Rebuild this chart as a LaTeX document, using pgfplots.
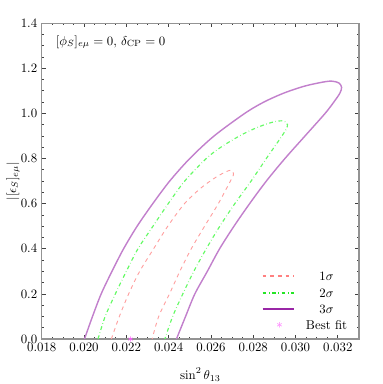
\documentclass[border=0pt]{standalone}
\usepackage{pgfplots}
\pgfplotsset{compat=1.18}
\usetikzlibrary{calc}
\definecolor{cpurple}{rgb}{0.76,0.50,0.80}
\definecolor{cred}{rgb}{1.0,0.62,0.62}
\definecolor{cgreen}{rgb}{0.40,0.98,0.40}
\definecolor{legpurple}{rgb}{0.60,0.15,0.65}
\definecolor{lred}{rgb}{1.0,0.50,0.50}
\definecolor{lgreen}{rgb}{0.15,0.90,0.15}
\definecolor{cstar}{rgb}{1.0,0.35,1.0}
\begin{document}
\begin{tikzpicture}
\begin{axis}[
  scale only axis, width=247pt, height=246pt,
  xmin=0.018, xmax=0.033, ymin=0, ymax=1.4,
  xtick={0.018,0.020,0.022,0.024,0.026,0.028,0.030,0.032},
  ytick={0,0.2,0.4,0.6,0.8,1.0,1.2,1.4},
  scaled x ticks=false,
  xticklabel style={/pgf/number format/fixed,/pgf/number format/fixed zerofill,/pgf/number format/precision=3},
  yticklabel style={/pgf/number format/fixed,/pgf/number format/fixed zerofill,/pgf/number format/precision=1},
  minor x tick num=3, minor y tick num=3,
  tick align=inside,
  major tick length=3pt, minor tick length=1.6pt,
  axis line style={gray!85, line width=0.9pt},
  tick style={black!75, line width=0.5pt},
  xlabel={$\sin^2\theta_{13}$},
  ylabel={$|[\epsilon_S]_{e\mu}|$},
  ylabel shift=-6pt,
  every axis x label/.style={at={(rel axis cs:0.5,0)}, anchor=north, yshift=-19pt},
]
% 1 sigma
\addplot[cred, dashed, line width=0.7pt, smooth, tension=0.5] coordinates {
(0.02129,0) (0.02167,0.1) (0.02211,0.2) (0.02263,0.3) (0.02329,0.4) (0.02396,0.5) (0.02475,0.6)
(0.02551,0.668) (0.02620,0.715) (0.02668,0.740) (0.02693,0.748) (0.02704,0.742) (0.02706,0.726)
(0.02692,0.70) (0.02635,0.6) (0.02570,0.5) (0.02507,0.4) (0.02453,0.3) (0.02404,0.2) (0.02353,0.1) (0.02322,0)
};
% 2 sigma
\addplot[cgreen, dash dot, line width=0.9pt, smooth, tension=0.5] coordinates {
(0.02066,0) (0.02100,0.1) (0.02148,0.2) (0.02200,0.3) (0.02255,0.4) (0.02326,0.5) (0.02398,0.6)
(0.02476,0.7) (0.02578,0.8) (0.02650,0.852) (0.02735,0.900) (0.02800,0.930) (0.02860,0.952)
(0.02905,0.964) (0.02935,0.967) (0.02953,0.962) (0.02962,0.950) (0.02956,0.930) (0.02925,0.885)
(0.02862,0.80) (0.02790,0.7) (0.02713,0.6) (0.02642,0.5) (0.02578,0.4) (0.02519,0.3) (0.02467,0.2) (0.02419,0.1) (0.02382,0)
};
% 3 sigma
\addplot[cpurple, line width=1.1pt, smooth, tension=0.5] coordinates {
(0.02002,0) (0.02040,0.1) (0.02081,0.2) (0.02132,0.3) (0.02187,0.4) (0.02251,0.5) (0.02325,0.6)
(0.02405,0.7) (0.02500,0.8) (0.02615,0.9) (0.02760,1.0) (0.02850,1.05) (0.02945,1.09)
(0.03040,1.120) (0.03120,1.137) (0.03170,1.143) (0.03205,1.135) (0.03218,1.115)
(0.03210,1.090) (0.03185,1.055) (0.03140,1.000) (0.03045,0.9)
(0.02950,0.8) (0.02862,0.7) (0.02783,0.6) (0.02709,0.5) (0.02641,0.4) (0.02583,0.3) (0.02524,0.2) (0.02480,0.1) (0.02437,0)
};
% best fit
\addplot[only marks, mark=asterisk, mark size=2pt, cstar] coordinates {(0.0222,0)};
% legend (drawn by hand)
\draw[lred, dashed, line width=0.8pt] (rel axis cs:0.696,0.1996) -- (rel axis cs:0.794,0.1996);
\draw[lgreen, dash dot, line width=1pt] (rel axis cs:0.696,0.1457) -- (rel axis cs:0.794,0.1457);
\draw[draw=legpurple, line width=1.4pt] (rel axis cs:0.696,0.0941) -- (rel axis cs:0.794,0.0941);
\node[text=cstar, inner sep=0pt] at (rel axis cs:0.750,0.0443) {$\ast$};
\node at (rel axis cs:0.898,0.1996) {$1\sigma$};
\node at (rel axis cs:0.898,0.1457) {$2\sigma$};
\node at (rel axis cs:0.898,0.0941) {$3\sigma$};
\node at (rel axis cs:0.898,0.0443) {Best fit};
\node[anchor=west] at (rel axis cs:0.03,0.94) {$[\phi_S]_{e\mu}=0$, $\delta_{\mathrm{CP}}=0$};
\end{axis}
\pgfresetboundingbox
\path ($(current axis.south west)+(-32.5pt,-35pt)$) rectangle ($(current axis.north east)+(18.5pt,18pt)$);
\end{tikzpicture}
\end{document}
